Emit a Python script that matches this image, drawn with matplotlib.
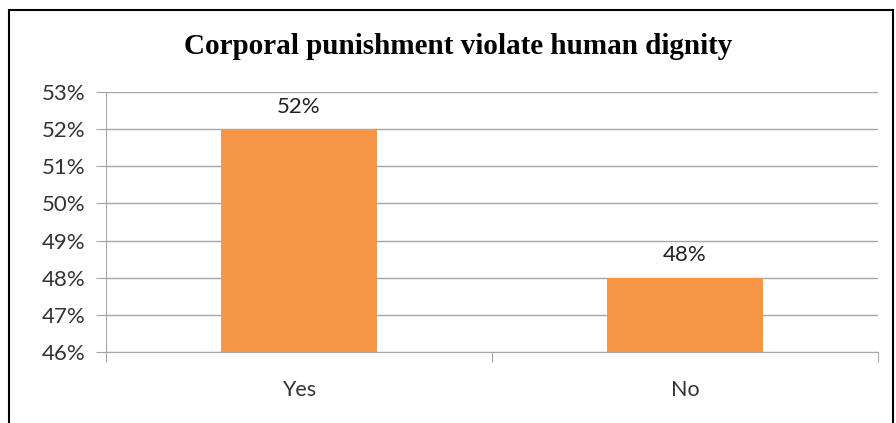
import matplotlib
matplotlib.use("Agg")
import matplotlib.pyplot as plt
from matplotlib.patches import Rectangle

# data
categories = ["Yes", "No"]
values = [52, 48]
yticks = [46, 47, 48, 49, 50, 51, 52, 53]

W, H = 896, 423
fig = plt.figure(figsize=(W / 100, H / 100), dpi=100)
ax = fig.add_axes([106 / W, 1 - 352 / H, (878 - 106) / W, (352 - 92) / H])

grid_col = "#a6a6a6"
bar_col = "#f79646"
txt_col = "#333333"

for y in yticks:
    ax.axhline(y, color=grid_col, lw=1, zorder=0)

x = list(range(len(categories)))
ax.bar(x, [v - 46 for v in values], bottom=46, width=0.404, color=bar_col, zorder=2)

for xi, v in zip(x, values):
    ax.annotate(f"{v}%", (xi, v), xytext=(0, 16), textcoords="offset points",
                ha="center", va="center", fontsize=16, family="Lato", color="#222222")

ax.set_xlim(-0.5, 1.5)
ax.set_ylim(46, 53)
ax.set_yticks(yticks)
ax.set_yticklabels([f"{y}%" for y in yticks], family="Lato", fontsize=16, color=txt_col)
ax.tick_params(axis="y", length=7, color=grid_col, pad=8)

# category ticks on the boundaries, labels at centres
ax.set_xticks([-0.5, 0.5, 1.5])
ax.set_xticklabels([])
ax.set_xticks(x, minor=True)
ax.set_xticklabels(categories, minor=True, family="Lato", fontsize=15.5, color=txt_col)
ax.tick_params(axis="x", which="major", length=7, color=grid_col)
ax.tick_params(axis="x", which="minor", length=0, pad=20)

for s in ["top", "right"]:
    ax.spines[s].set_visible(False)
ax.spines["left"].set_color(grid_col)
ax.spines["bottom"].set_color(grid_col)

fig.text(458 / W, 1 - 47 / H, "Corporal punishment violate human dignity",
         ha="center", va="center", family="Liberation Serif", fontweight="bold",
         fontsize=21)

# outer frame of the chart
fig.patches.append(Rectangle((9 / W, -0.1), (893 - 9) / W, 1 - 10 / H + 0.1,
                             transform=fig.transFigure, fill=False,
                             edgecolor="black", lw=1.5))

fig.savefig("out.png", dpi=100)
